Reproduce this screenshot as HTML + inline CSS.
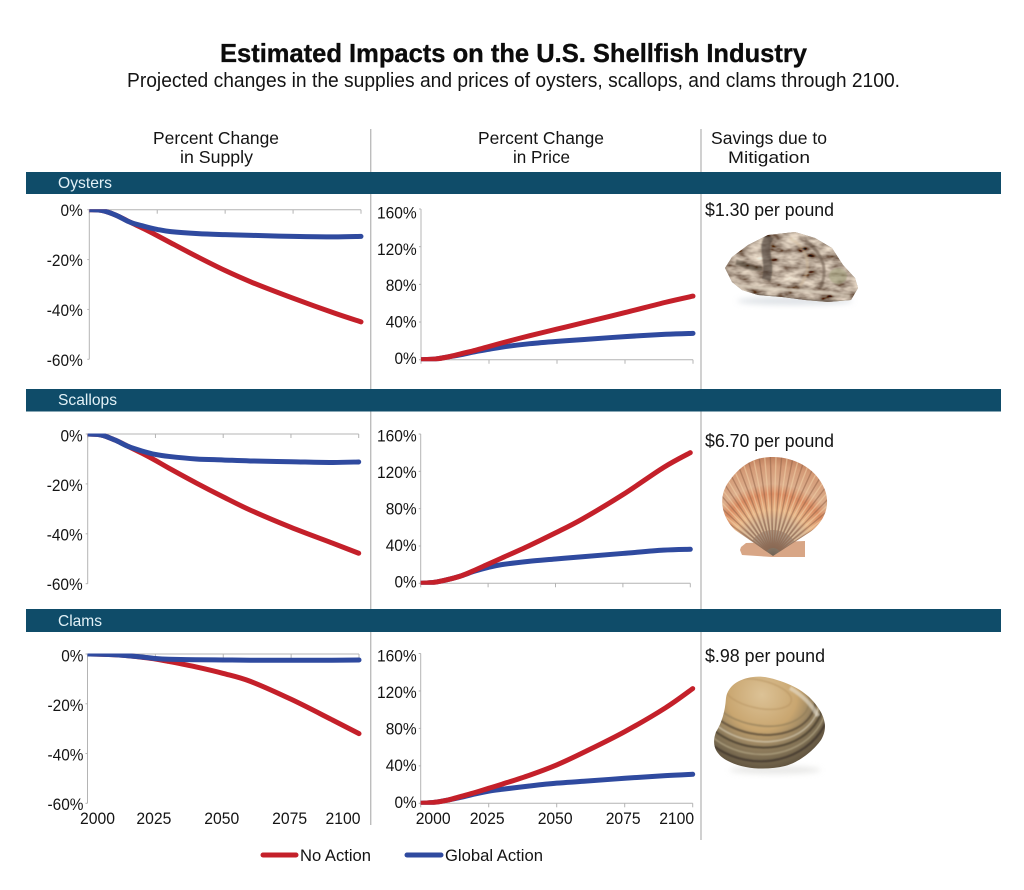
<!DOCTYPE html>
<html lang="en">
<head>
<meta charset="utf-8">
<title>Estimated Impacts on the U.S. Shellfish Industry</title>
<style>
html,body{margin:0;padding:0;background:#fff;}
svg{display:block;}
text{font-family:"Liberation Sans",sans-serif;fill:#141414;}
</style>
</head>
<body>
<svg id="root" xmlns="http://www.w3.org/2000/svg" width="1024" height="890" viewBox="0 0 1024 890">
  <defs>
    <filter id="oysterTex" x="0" y="0" width="100%" height="100%">
      <feTurbulence type="fractalNoise" baseFrequency="0.06 0.13" numOctaves="3" seed="7" result="n"/>
      <feColorMatrix in="n" type="matrix" values="1.6 0 0 0 -0.28  1.5 0 0 0 -0.32  1.3 0 0 0 -0.3  0 0 0 0 1" result="c"/>
      <feComposite in="c" in2="SourceAlpha" operator="in"/>
    </filter>
    <filter id="softBlur" x="-30%" y="-60%" width="160%" height="220%"><feGaussianBlur stdDeviation="3"/></filter>
    <filter id="tinyBlur" x="-10%" y="-10%" width="120%" height="120%"><feGaussianBlur stdDeviation="0.7"/></filter>
    <radialGradient id="scallopFill" gradientUnits="userSpaceOnUse" cx="773" cy="556" r="100">
      <stop offset="0" stop-color="#6f6254"/>
      <stop offset="0.2" stop-color="#a08b78"/>
      <stop offset="0.36" stop-color="#c2a287"/>
      <stop offset="0.46" stop-color="#e8b688"/>
      <stop offset="0.62" stop-color="#da8c62"/>
      <stop offset="0.72" stop-color="#dcae8c"/>
      <stop offset="0.9" stop-color="#d49a76"/>
      <stop offset="1" stop-color="#bf7f5c"/>
    </radialGradient>
    <radialGradient id="clamFill" gradientUnits="userSpaceOnUse" cx="762" cy="695" r="78">
      <stop offset="0" stop-color="#dcc296"/>
      <stop offset="0.45" stop-color="#c9a670"/>
      <stop offset="0.66" stop-color="#968260"/>
      <stop offset="0.85" stop-color="#75674e"/>
      <stop offset="1" stop-color="#5a4d3a"/>
    </radialGradient>
    <clipPath id="clamClip"><path d="M753,677 C738,679 728,686 726,698 C725,712 722,722 716,732 C711,745 716,755 728,761 C745,770 768,770 785,766 C800,762 814,750 821,740 C827,730 826,720 819,709 C810,695 797,686 777,680 C768,677 760,676 753,677 Z"/></clipPath>
    <clipPath id="oysterClip"><path d="M725,268 L732,257 L748,245 L768,235 L795,232 L815,238 L832,248 L843,265 L855,278 L858,288 L851,300 L828,302 L805,300 L782,297 L758,295 L742,290 L732,282 Z"/></clipPath>
    <clipPath id="scallopClip"><path d="M773,556 L735,530 C720,515 718,495 730,480 C745,460 760,457 773,457 C790,457 815,465 825,490 C832,510 820,525 810,532 Z"/></clipPath>
  </defs>
  <rect width="1024" height="890" fill="#ffffff"/>

  <text x="220" y="62" font-size="26" font-weight="700" textLength="587" lengthAdjust="spacingAndGlyphs" style="fill:#0c0c0c;stroke:#0c0c0c;stroke-width:0.35">Estimated Impacts on the U.S. Shellfish Industry</text>
  <text x="127" y="87" font-size="20" textLength="773" lengthAdjust="spacingAndGlyphs">Projected changes in the supplies and prices of oysters, scallops, and clams through 2100.</text>

  <g font-size="17.5">
    <text x="153" y="144" textLength="126" lengthAdjust="spacingAndGlyphs">Percent Change</text>
    <text x="180" y="163" textLength="73" lengthAdjust="spacingAndGlyphs">in Supply</text>
    <text x="478" y="144" textLength="126" lengthAdjust="spacingAndGlyphs">Percent Change</text>
    <text x="513" y="163" textLength="57" lengthAdjust="spacingAndGlyphs">in Price</text>
    <text x="711" y="144" textLength="116" lengthAdjust="spacingAndGlyphs">Savings due to</text>
    <text x="728" y="163" font-size="17" textLength="82" lengthAdjust="spacingAndGlyphs">Mitigation</text>
  </g>

  <g stroke="#bdbdbd" stroke-width="1.4" fill="none">
    <path d="M370.7,129V389M370.7,411V609M370.7,632V825"/>
    <path d="M701,129V389M701,411V609M701,632V840"/>
  </g>

  <g>
    <rect x="26" y="172" width="975" height="22" fill="#0f4c69"/>
    <text x="58" y="188" font-size="16" textLength="54" lengthAdjust="spacingAndGlyphs" style="fill:#e2f1f7">Oysters</text>
    <rect x="26" y="389" width="975" height="22.5" fill="#0f4c69"/>
    <text x="58" y="405" font-size="16" textLength="59" lengthAdjust="spacingAndGlyphs" style="fill:#e2f1f7">Scallops</text>
    <rect x="26" y="609" width="975" height="23" fill="#0f4c69"/>
    <text x="58" y="626" font-size="16" textLength="44" lengthAdjust="spacingAndGlyphs" style="fill:#e2f1f7">Clams</text>
  </g>

  <g id="charts"></g>

  <g font-size="18">
    <text x="705" y="216" textLength="129" lengthAdjust="spacingAndGlyphs">$1.30 per pound</text>
    <text x="705" y="447" textLength="129" lengthAdjust="spacingAndGlyphs">$6.70 per pound</text>
    <text x="705" y="662" textLength="120" lengthAdjust="spacingAndGlyphs">$.98 per pound</text>
  </g>

  <g>
    <ellipse cx="795" cy="301" rx="58" ry="4" fill="#c3cad2" opacity="0.55" filter="url(#softBlur)"/>
    <path d="M725,268 L732,257 L748,245 L768,235 L795,232 L815,238 L832,248 L843,265 L855,278 L858,288 L851,300 L828,302 L805,300 L782,297 L758,295 L742,290 L732,282 Z" fill="#7d6955"/>
    <path d="M725,268 L732,257 L748,245 L768,235 L795,232 L815,238 L832,248 L843,265 L855,278 L858,288 L851,300 L828,302 L805,300 L782,297 L758,295 L742,290 L732,282 Z" fill="#000" filter="url(#oysterTex)" opacity="0.85"/>
    <g clip-path="url(#oysterClip)" fill="none" filter="url(#tinyBlur)">
      <path d="M770,236 C760,248 772,262 766,280" stroke="#3a3027" stroke-width="9" opacity="0.55"/>
      <path d="M736,262 C746,264 752,270 762,268" stroke="#3f352c" stroke-width="5" opacity="0.5"/>
      <path d="M735,285 C760,290 800,288 850,296" stroke="#ded3c0" stroke-width="3" opacity="0.7"/>
      <path d="M745,293 C770,298 810,302 850,302" stroke="#4a3c30" stroke-width="3" opacity="0.6"/>
      <path d="M790,238 C810,250 812,270 800,286" stroke="#cdb89a" stroke-width="3" opacity="0.55"/>
      <path d="M805,240 C825,255 828,272 820,288" stroke="#5b4b3b" stroke-width="3" opacity="0.5"/>
      <ellipse cx="838" cy="276" rx="9" ry="8" fill="#a3a27e" opacity="0.6"/>
    </g>
  </g>

  <g>
    <path d="M741,547 L746,543 L805,541 L805,557 L772,557 L742,555 L740,550 Z" fill="#d8a686"/>
    <path d="M773,556 L735,530 C720,515 718,495 730,480 C745,460 760,457 773,457 C790,457 815,465 825,490 C832,510 820,525 810,532 Z" fill="url(#scallopFill)"/>
    <g clip-path="url(#scallopClip)">
      <path id="scallopRibs" d="" fill="none" stroke="#8f6045" stroke-width="1.4" opacity="0.5"/>
      <path id="scallopLightRibs" d="" fill="none" stroke="#f0cfa6" stroke-width="1.4" opacity="0.55"/>
    </g>
  </g>

  <g>
    <ellipse cx="775" cy="770" rx="46" ry="4" fill="#d2d2cf" opacity="0.5" filter="url(#softBlur)"/>
    <path d="M753,677 C738,679 728,686 726,698 C725,712 722,722 716,732 C711,745 716,755 728,761 C745,770 768,770 785,766 C800,762 814,750 821,740 C827,730 826,720 819,709 C810,695 797,686 777,680 C768,677 760,676 753,677 Z" fill="url(#clamFill)"/>
    <g clip-path="url(#clamClip)" fill="none" filter="url(#tinyBlur)">
      <ellipse cx="758" cy="694" rx="52" ry="31" stroke="#8d7a57" stroke-width="1.6" transform="rotate(12 758 694)" opacity="0.7"/>
      <ellipse cx="758" cy="694" rx="58" ry="40" stroke="#554935" stroke-width="2" transform="rotate(12 758 694)" opacity="0.8"/>
      <ellipse cx="758" cy="694" rx="62" ry="47" stroke="#d7cdb5" stroke-width="1.4" transform="rotate(12 758 694)" opacity="0.8"/>
      <ellipse cx="758" cy="694" rx="66" ry="53" stroke="#463b2b" stroke-width="2" transform="rotate(12 758 694)" opacity="0.8"/>
      <ellipse cx="758" cy="694" rx="70" ry="60" stroke="#b5a988" stroke-width="1.4" transform="rotate(12 758 694)" opacity="0.8"/>
      <ellipse cx="758" cy="694" rx="74" ry="67" stroke="#40362a" stroke-width="2.2" transform="rotate(12 758 694)" opacity="0.8"/>
      <ellipse cx="758" cy="694" rx="34" ry="14" stroke="#b5925f" stroke-width="1.4" transform="rotate(12 758 694)" opacity="0.6"/>
      <path d="M790,688 C802,695 812,705 818,716" stroke="#e9e3d4" stroke-width="4" opacity="0.6"/>
    </g>
  </g>

  <g>
    <line x1="263" y1="855" x2="296" y2="855" stroke="#c4202a" stroke-width="5" stroke-linecap="round"/>
    <text x="300" y="861" font-size="16.5" textLength="71" lengthAdjust="spacingAndGlyphs">No Action</text>
    <line x1="407" y1="855" x2="441" y2="855" stroke="#2f4a9f" stroke-width="5" stroke-linecap="round"/>
    <text x="445" y="861" font-size="16.5" textLength="98" lengthAdjust="spacingAndGlyphs">Global Action</text>
  </g>
</svg>
<script>
// Chart data (percent change)
const years = [2000, 2005, 2010, 2015, 2020, 2025, 2030, 2040, 2050, 2060, 2075, 2090, 2100];
const xTickYears = [2000, 2025, 2050, 2075, 2100];
const supplyTicks = [0, -20, -40, -60];
const priceTicks = [160, 120, 80, 40, 0];

const oystersSupplyNoAction = [0, -0.4, -2.3, -5, -7.6, -10.4, -13.3, -19, -24.4, -29.2, -35.5, -41.4, -45];
const oystersSupplyGlobal = [0, -0.4, -2.3, -5, -6.6, -7.9, -8.8, -9.6, -10, -10.3, -10.7, -10.9, -10.7];
const oystersPriceNoAction = [0, 0.6, 3, 6.5, 10, 14, 18, 25.5, 32.5, 39.5, 50, 61, 67.5];
const oystersPriceGlobal = [0, 0.6, 3, 5.5, 8.5, 11, 13.5, 17, 19.5, 21.5, 24.5, 27, 28];

const scallopsSupplyNoAction = [0, -0.4, -2.4, -5, -7.7, -10.6, -13.7, -19.6, -25.2, -30.5, -37.4, -43.6, -47.8];
const scallopsSupplyGlobal = [0, -0.4, -2.4, -5, -6.8, -8.2, -9, -10, -10.4, -10.8, -11.1, -11.4, -11.2];
const scallopsPriceNoAction = [0, 1, 4, 8, 14, 20.5, 27, 40, 54, 69, 95, 124, 140];
const scallopsPriceGlobal = [0, 1, 4, 8, 13, 17, 20, 23.5, 26, 28.5, 32, 35.5, 36.5];

const clamsSupplyNoAction = [0, -0.1, -0.3, -0.7, -1.3, -2, -3, -5.2, -7.8, -11, -18.2, -26.4, -32];
const clamsSupplyGlobal = [0, -0.1, -0.3, -0.7, -1.2, -1.8, -2.1, -2.3, -2.4, -2.5, -2.5, -2.5, -2.4];
const clamsPriceNoAction = [0, 1, 3.5, 7.5, 11.5, 16, 20.5, 30, 41, 54.5, 76.5, 102, 122.5];
const clamsPriceGlobal = [0, 1, 3.5, 6.5, 10, 13, 15, 18.5, 21.5, 23.5, 26.7, 29.5, 31];

const NS = 'http://www.w3.org/2000/svg';
const chartsRoot = document.getElementById('charts');
const svgDefs = document.querySelector('#root defs');

function make(tag, attrs, parent) {
  const node = document.createElementNS(NS, tag);
  for (const k in attrs) node.setAttribute(k, attrs[k]);
  parent.appendChild(node);
  return node;
}

function xScale(p, year) {
  return p.left + (year - 2000) / 100 * (p.right - p.left);
}
function yScale(p, value) {
  return p.top + (p.max - value) / (p.max - p.min) * (p.bottom - p.top);
}
function yLabelPos(p, value) {
  return p.labelTop + (p.max - value) / (p.max - p.min) * (p.labelBottom - p.labelTop);
}
// Approximate width of a tick label in the reference typeface
function labelWidth(str) {
  let w = 0;
  for (const ch of str) w += ch === '%' ? 13.5 : ch === '-' ? 5 : 8.75;
  return w;
}
// Smooth curve through the data points (Catmull-Rom to Bezier)
function curvePath(pts) {
  let d = 'M' + pts[0][0].toFixed(2) + ',' + pts[0][1].toFixed(2);
  for (let i = 0; i < pts.length - 1; i++) {
    const p0 = pts[Math.max(i - 1, 0)];
    const p1 = pts[i];
    const p2 = pts[i + 1];
    const p3 = pts[Math.min(i + 2, pts.length - 1)];
    const c1x = p1[0] + (p2[0] - p0[0]) / 6;
    const c1y = p1[1] + (p2[1] - p0[1]) / 6;
    const c2x = p2[0] - (p3[0] - p1[0]) / 6;
    const c2y = p2[1] - (p3[1] - p1[1]) / 6;
    d += 'C' + c1x.toFixed(2) + ',' + c1y.toFixed(2) + ' ' + c2x.toFixed(2) + ',' + c2y.toFixed(2) + ' ' + p2[0].toFixed(2) + ',' + p2[1].toFixed(2);
  }
  return d;
}

function drawPanel(p) {
  const g = make('g', {}, chartsRoot);
  
  

  const xAxisValue = p.kind === 'supply' ? p.max : p.min;
  const axisY = yScale(p, xAxisValue);

  const clip = make('clipPath', {id: p.id + '-clip'}, svgDefs);
  make('rect', {
    x: p.left,
    y: p.kind === 'supply' ? p.top - 0.5 : p.top - 10,
    width: p.right - p.left + 10,
    height: p.bottom - p.top + (p.kind === 'supply' ? 10 : 11.5)
  }, clip);

  const yAxis = make('line', {x1: p.left, x2: p.left, y1: p.top, y2: p.bottom, stroke: '#b4b4b4', 'stroke-width': 1}, g);
  
  

  const xAxis = make('line', {x1: p.left, x2: p.right, y1: axisY, y2: axisY, stroke: '#b4b4b4', 'stroke-width': 1}, g);
  
  

  xTickYears.forEach(function (yr) {
    const tx = xScale(p, yr);
    const tick = make('line', {x1: tx, x2: tx, y1: axisY, y2: axisY + 4, stroke: '#b4b4b4', 'stroke-width': 1}, g);
    
    
  });

  p.ticks.forEach(function (v) {
    const ty = yScale(p, v);
    const tick = make('line', {x1: p.left - 2, x2: p.left, y1: ty, y2: ty, stroke: '#b4b4b4', 'stroke-width': 1}, g);
    
    
    const text = v + '%';
    const label = make('text', {x: p.left - p.labelGap, y: yLabelPos(p, v) + 5.8, 'text-anchor': 'end', 'font-size': 16.5, textLength: labelWidth(text), lengthAdjust: 'spacingAndGlyphs'}, g);
    label.textContent = text;
    
    
  });

  if (p.showYears) {
    xTickYears.forEach(function (yr, i) {
      const last = xTickYears.length - 1;
      let anchor = 'middle';
      let lx = xScale(p, yr) - 1.5;
      if (i === 0) { anchor = 'start'; lx = xScale(p, yr) + p.firstYearNudge; }
      if (i === last) { anchor = 'end'; lx = xScale(p, yr) + 1.5; }
      const label = make('text', {x: lx, y: p.yearBaseline, 'text-anchor': anchor, 'font-size': 16.5, textLength: labelWidth(String(yr)), lengthAdjust: 'spacingAndGlyphs'}, g);
      label.textContent = String(yr);
      
      
    });
  }

  const redSeries = {key: 'no-action', values: p.noAction, color: '#c4202a'};
  const blueSeries = {key: 'global-action', values: p.globalAction, color: '#2f4a9f'};
  const order = p.kind === 'supply' ? [redSeries, blueSeries] : [blueSeries, redSeries];
  order.forEach(function (s) {
    const pts = s.values.map(function (v, i) {
      return [xScale(p, years[i]), yScale(p, v)];
    });
    const line = make('path', {d: curvePath(pts), fill: 'none', stroke: s.color, 'stroke-width': 5, 'stroke-linecap': 'round', 'stroke-linejoin': 'round', 'clip-path': 'url(#' + p.id + '-clip)'}, g);
    
    
  });
}

const panels = [
  {id: 'oysters-supply', kind: 'supply', left: 89.3, right: 361, top: 209.7, bottom: 359.3, labelTop: 210, labelBottom: 360, labelGap: 6.5, max: 0, min: -60, ticks: supplyTicks, noAction: oystersSupplyNoAction, globalAction: oystersSupplyGlobal},
  {id: 'oysters-price', kind: 'price', left: 421, right: 693, top: 209, bottom: 359.7, labelTop: 212.7, labelBottom: 358, labelGap: 4.3, max: 160, min: 0, ticks: priceTicks, noAction: oystersPriceNoAction, globalAction: oystersPriceGlobal},
  {id: 'scallops-supply', kind: 'supply', left: 87.7, right: 358.7, top: 434, bottom: 583.7, labelTop: 435.7, labelBottom: 584, labelGap: 5, max: 0, min: -60, ticks: supplyTicks, noAction: scallopsSupplyNoAction, globalAction: scallopsSupplyGlobal},
  {id: 'scallops-price', kind: 'price', left: 420.7, right: 690.3, top: 434, bottom: 583.3, labelTop: 435.7, labelBottom: 581.7, labelGap: 4, max: 160, min: 0, ticks: priceTicks, noAction: scallopsPriceNoAction, globalAction: scallopsPriceGlobal},
  {id: 'clams-supply', kind: 'supply', left: 87.5, right: 359, top: 654, bottom: 803.3, labelTop: 655.6, labelBottom: 804, labelGap: 4, max: 0, min: -60, ticks: supplyTicks, noAction: clamsSupplyNoAction, globalAction: clamsSupplyGlobal, showYears: true, yearBaseline: 824, firstYearNudge: -7.5},
  {id: 'clams-price', kind: 'price', left: 420.7, right: 692.7, top: 653.5, bottom: 803.3, labelTop: 655.7, labelBottom: 802, labelGap: 4, max: 160, min: 0, ticks: priceTicks, noAction: clamsPriceNoAction, globalAction: clamsPriceGlobal, showYears: true, yearBaseline: 824, firstYearNudge: -5}
];
panels.forEach(drawPanel);

// Decorative scallop ribs radiating from the hinge
(function () {
  let dark = '';
  let light = '';
  for (let a = -60; a <= 60; a += 6.5) {
    const rad = a * Math.PI / 180;
    const x1 = 773 + Math.sin(rad) * 8;
    const y1 = 556 - Math.cos(rad) * 8;
    const x2 = 773 + Math.sin(rad) * 110;
    const y2 = 556 - Math.cos(rad) * 110;
    dark += 'M' + x1.toFixed(1) + ',' + y1.toFixed(1) + 'L' + x2.toFixed(1) + ',' + y2.toFixed(1);
    const rad2 = (a + 3.2) * Math.PI / 180;
    const x3 = 773 + Math.sin(rad2) * 26;
    const y3 = 556 - Math.cos(rad2) * 26;
    const x4 = 773 + Math.sin(rad2) * 110;
    const y4 = 556 - Math.cos(rad2) * 110;
    light += 'M' + x3.toFixed(1) + ',' + y3.toFixed(1) + 'L' + x4.toFixed(1) + ',' + y4.toFixed(1);
  }
  document.getElementById('scallopRibs').setAttribute('d', dark);
  document.getElementById('scallopLightRibs').setAttribute('d', light);
})();
</script>
</body>
</html>
